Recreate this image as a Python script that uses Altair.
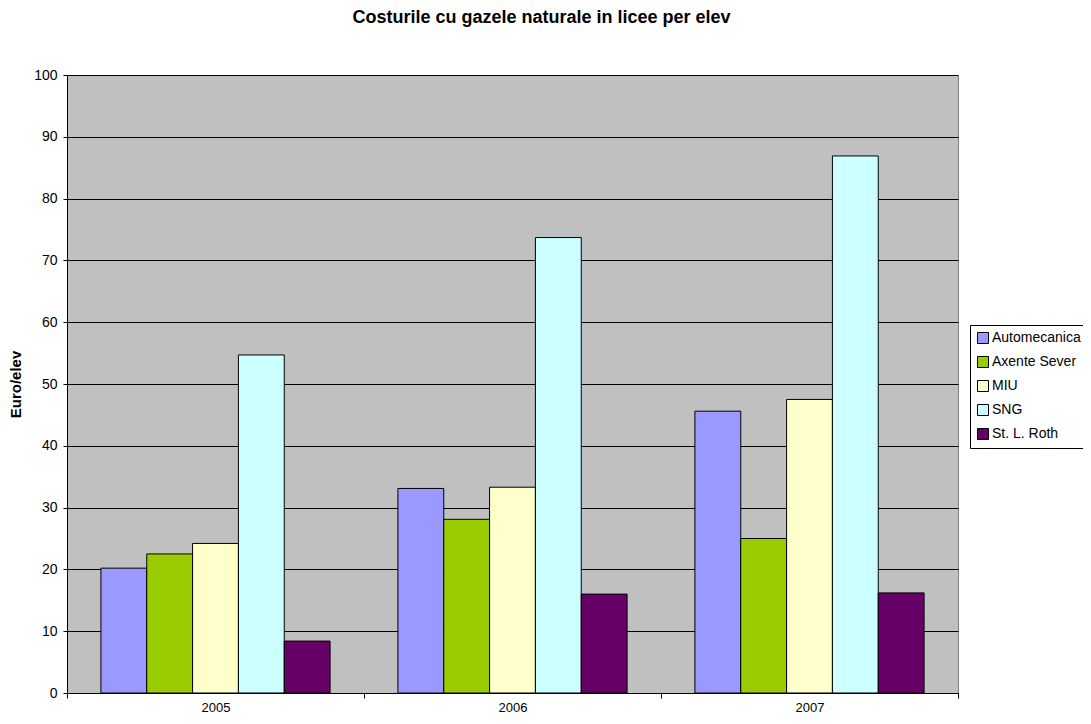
import altair as alt
import pandas as pd

years = ["2005", "2006", "2007"]
schools = ["Automecanica", "Axente Sever", "MIU", "SNG", "St. L. Roth"]
colors = ["#9999FF", "#99CC00", "#FFFFCC", "#CCFFFF", "#660066"]
automecanica = [20.2, 33.1, 45.6]
axente = [22.5, 28.1, 25.0]
miu = [24.2, 33.3, 47.5]
sng = [54.7, 73.7, 86.9]
roth = [8.4, 16.0, 16.2]
y_ticks = [0, 10, 20, 30, 40, 50, 60, 70, 80, 90, 100]

series = [automecanica, axente, miu, sng, roth]
rows = []
for s, vals in zip(schools, series):
    for y, v in zip(years, vals):
        rows.append({"An": y, "Liceu": s, "Valoare": v})
df = pd.DataFrame(rows)

FONT = "Liberation Sans"

bars = alt.Chart(df).mark_bar(stroke="black", strokeWidth=1).encode(
    x=alt.X("An:N", title=None,
            scale=alt.Scale(paddingInner=0, paddingOuter=0),
            axis=alt.Axis(labelAngle=0, tickBand="extent", domainColor="black",
                          tickColor="black", tickSize=5, labelFontSize=13,
                          labelFont=FONT, labelColor="black", labelPadding=3)),
    xOffset=alt.XOffset("Liceu:N", sort=schools,
                        scale=alt.Scale(paddingInner=0, paddingOuter=0.74)),
    y=alt.Y("Valoare:Q", title="Euro/elev",
            scale=alt.Scale(domain=[0, 100], nice=False),
            axis=alt.Axis(values=y_ticks,
                          gridColor="black", gridWidth=1, domainColor="black",
                          tickColor="black", tickSize=4, labelFontSize=14,
                          labelFont=FONT, labelColor="black", labelPadding=6,
                          titleFont=FONT, titleFontSize=15, titleFontWeight="bold",
                          titleColor="black", titlePadding=10)),
    color=alt.Color("Liceu:N", sort=schools,
                    scale=alt.Scale(domain=schools, range=colors),
                    legend=alt.Legend(title=None, orient="none", legendX=903, legendY=250,
                                      symbolType="square", symbolSize=121,
                                      symbolStrokeColor="black", symbolStrokeWidth=1,
                                      labelFont=FONT, labelFontSize=14, labelColor="black",
                                      rowPadding=8, symbolOffset=0,
                                      strokeColor="black", fillColor="white",
                                      padding=6, labelOffset=2, symbolLimit=10)),
)

chart = bars.properties(
    width=891, height=618,
    padding={"left": 59, "top": 67, "right": 125, "bottom": 23},
    autosize=alt.AutoSizeParams(type="none"),
    background="white",
    title=alt.TitleParams("Costurile cu gazele naturale in licee per elev",
                          font=FONT, fontSize=18, fontWeight="bold", color="black",
                          anchor="middle", dx=29, offset=41),
).configure_view(fill="#C0C0C0", stroke="#808080", strokeWidth=1)

chart.save("out.html", embed_options={"renderer": "svg", "actions": False})
